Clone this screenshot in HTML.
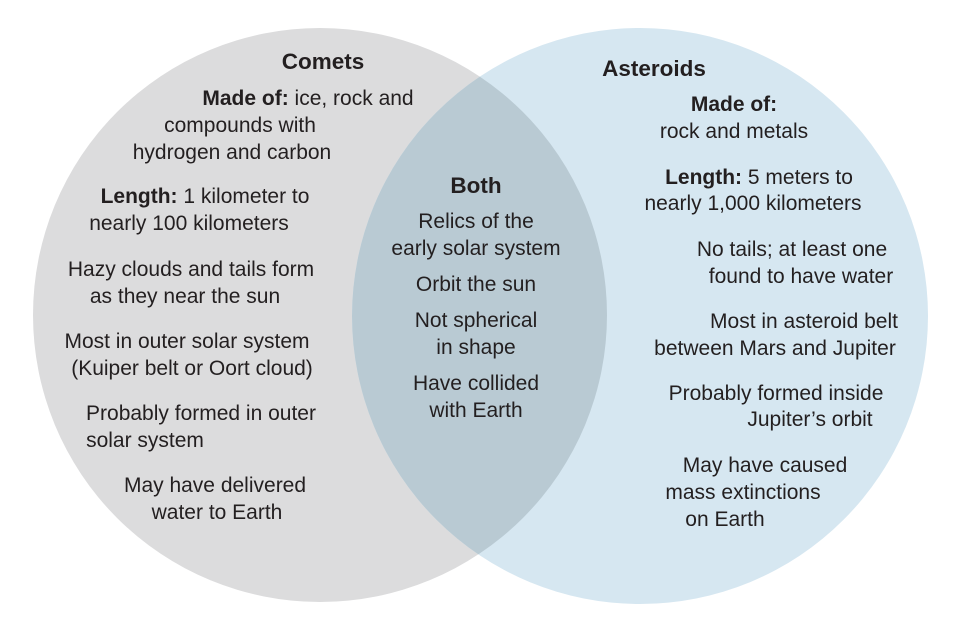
<!DOCTYPE html>
<html><head><meta charset="utf-8"><style>
body{margin:0;background:#fff;}
#c{position:relative;width:960px;height:628px;overflow:hidden;font-family:"Liberation Sans",sans-serif;color:#231f20;font-size:21px;}
.t{position:absolute;white-space:nowrap;transform:translate(-50%,-50%);line-height:28px;}
b{font-weight:bold;}
.h{font-weight:bold;font-size:22.5px;}
svg{position:absolute;left:0;top:0;}
</style></head><body><div id="c">
<svg width="960" height="628">
<defs><clipPath id="cl"><circle cx="320" cy="315" r="287"/></clipPath></defs>
<circle cx="320" cy="315" r="287" fill="#dcdcdd"/>
<circle cx="640" cy="316" r="288" fill="#d6e7f1"/>
<circle cx="640" cy="316" r="288" fill="#b9cad3" clip-path="url(#cl)"/>
</svg>
<div class="t h" style="left:323px;top:62px">Comets</div>
<div class="t" style="left:308px;top:99px"><b>Made of:</b> ice, rock and</div>
<div class="t" style="left:240px;top:126px">compounds with</div>
<div class="t" style="left:232px;top:153px">hydrogen and carbon</div>
<div class="t" style="left:205px;top:197px"><b>Length:</b> 1 kilometer to</div>
<div class="t" style="left:189px;top:224px">nearly 100 kilometers</div>
<div class="t" style="left:191px;top:270px">Hazy clouds and tails form</div>
<div class="t" style="left:185px;top:297px">as they near the sun</div>
<div class="t" style="left:187px;top:342px">Most in outer solar system</div>
<div class="t" style="left:192px;top:369px">(Kuiper belt or Oort cloud)</div>
<div class="t" style="left:201px;top:414px">Probably formed in outer</div>
<div class="t" style="left:145px;top:441px">solar system</div>
<div class="t" style="left:215px;top:486px">May have delivered</div>
<div class="t" style="left:217px;top:513px">water to Earth</div>

<div class="t h" style="left:476px;top:186px">Both</div>
<div class="t" style="left:476px;top:222px">Relics of the</div>
<div class="t" style="left:476px;top:249px">early solar system</div>
<div class="t" style="left:476px;top:285px">Orbit the sun</div>
<div class="t" style="left:476px;top:321px">Not spherical</div>
<div class="t" style="left:476px;top:348px">in shape</div>
<div class="t" style="left:476px;top:384px">Have collided</div>
<div class="t" style="left:476px;top:411px">with Earth</div>

<div class="t h" style="left:654px;top:69px">Asteroids</div>
<div class="t" style="left:734px;top:105px"><b>Made of:</b></div>
<div class="t" style="left:734px;top:132px">rock and metals</div>
<div class="t" style="left:759px;top:178px"><b>Length:</b> 5 meters to</div>
<div class="t" style="left:753px;top:204px">nearly 1,000 kilometers</div>
<div class="t" style="left:792px;top:250px">No tails; at least one</div>
<div class="t" style="left:801px;top:277px">found to have water</div>
<div class="t" style="left:804px;top:322px">Most in asteroid belt</div>
<div class="t" style="left:775px;top:349px">between Mars and Jupiter</div>
<div class="t" style="left:776px;top:394px">Probably formed inside</div>
<div class="t" style="left:810px;top:420px">Jupiter’s orbit</div>
<div class="t" style="left:765px;top:466px">May have caused</div>
<div class="t" style="left:743px;top:493px">mass extinctions</div>
<div class="t" style="left:725px;top:520px">on Earth</div>
</div></body></html>
